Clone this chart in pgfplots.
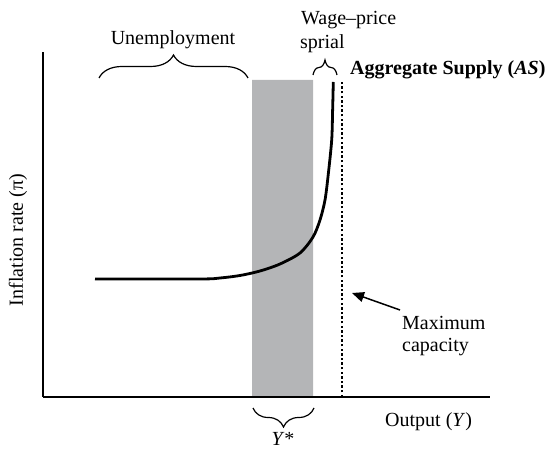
\documentclass[border=0pt]{standalone}
\usepackage{pgfplots}
\pgfplotsset{compat=1.18}
\usepackage{fontspec}
\setmainfont{Liberation Serif}
\usetikzlibrary{decorations.pathreplacing,arrows.meta}
\newcommand\fs{\fontsize{20bp}{23bp}\selectfont}
\definecolor{bandgray}{RGB}{180,181,183}
\begin{document}
\begin{tikzpicture}
\begin{axis}[x=1bp,y=1bp,xmin=43,xmax=490,ymin=54,ymax=399,
  axis lines=left, axis line style={-,line width=2.4bp},
  xtick=\empty, ytick=\empty, clip=false, axis on top]
\path (axis cs:0,0) rectangle (axis cs:555,451);
% Y* band
\addplot[fill=bandgray,draw=none] coordinates {(252,54)(313,54)(313,371)(252,371)(252,54)};
% maximum capacity
\addplot[line width=2.4bp, dash pattern=on 2.4bp off 2.2bp] coordinates {(342,54)(342,369)};
% aggregate supply curve
\addplot[smooth, tension=0.5, line width=2.8bp] coordinates {
(95,172) (200,172) (220,173) (240,175.5) (260,180) (280,187) (300,198)
(313,214) (320,231) (325,251) (328.3,277) (331.7,311) (332.6,340) (333.3,369)};
% braces
\draw[decorate, decoration={brace, amplitude=23bp}, line width=1.2bp] (axis cs:99,373) -- (axis cs:248,373);
\draw[decorate, decoration={brace, amplitude=15bp}, line width=1.2bp] (axis cs:313,376) -- (axis cs:337,376);
\draw[decorate, decoration={brace, amplitude=19bp, mirror}, line width=1.2bp] (axis cs:253,43) -- (axis cs:314,43);
% arrow
\draw[-{Triangle[length=12bp,width=10bp]}, line width=1.5bp] (axis cs:400,141) -- (axis cs:352,158);
% texts
\node[anchor=base, font=\fs] at (axis cs:173,406) {Unemployment};
\node[anchor=base west, font=\fs, inner sep=0pt] at (axis cs:301,426) {Wage–price};
\node[anchor=base west, font=\fs, inner sep=0pt] at (axis cs:300,402) {sprial};
\node[anchor=base west, font=\fs, inner sep=0pt] at (axis cs:350,376) {\textbf{Aggregate Supply (\textit{AS})}};
\node[anchor=base west, font=\fs, inner sep=0pt] at (axis cs:402,121) {Maximum};
\node[anchor=base west, font=\fs, inner sep=0pt] at (axis cs:402,99) {capacity};
\node[anchor=base west, font=\fs, inner sep=0pt] at (axis cs:385,24) {Output (\textit{Y})};
\node[anchor=base, font=\fs, inner sep=0pt] at (axis cs:283,5) {\textit{Y}*};
\node[rotate=90, font=\fs, inner sep=0pt] at (axis cs:18,211) {Inflation rate (π)};
\end{axis}
\end{tikzpicture}
\end{document}
